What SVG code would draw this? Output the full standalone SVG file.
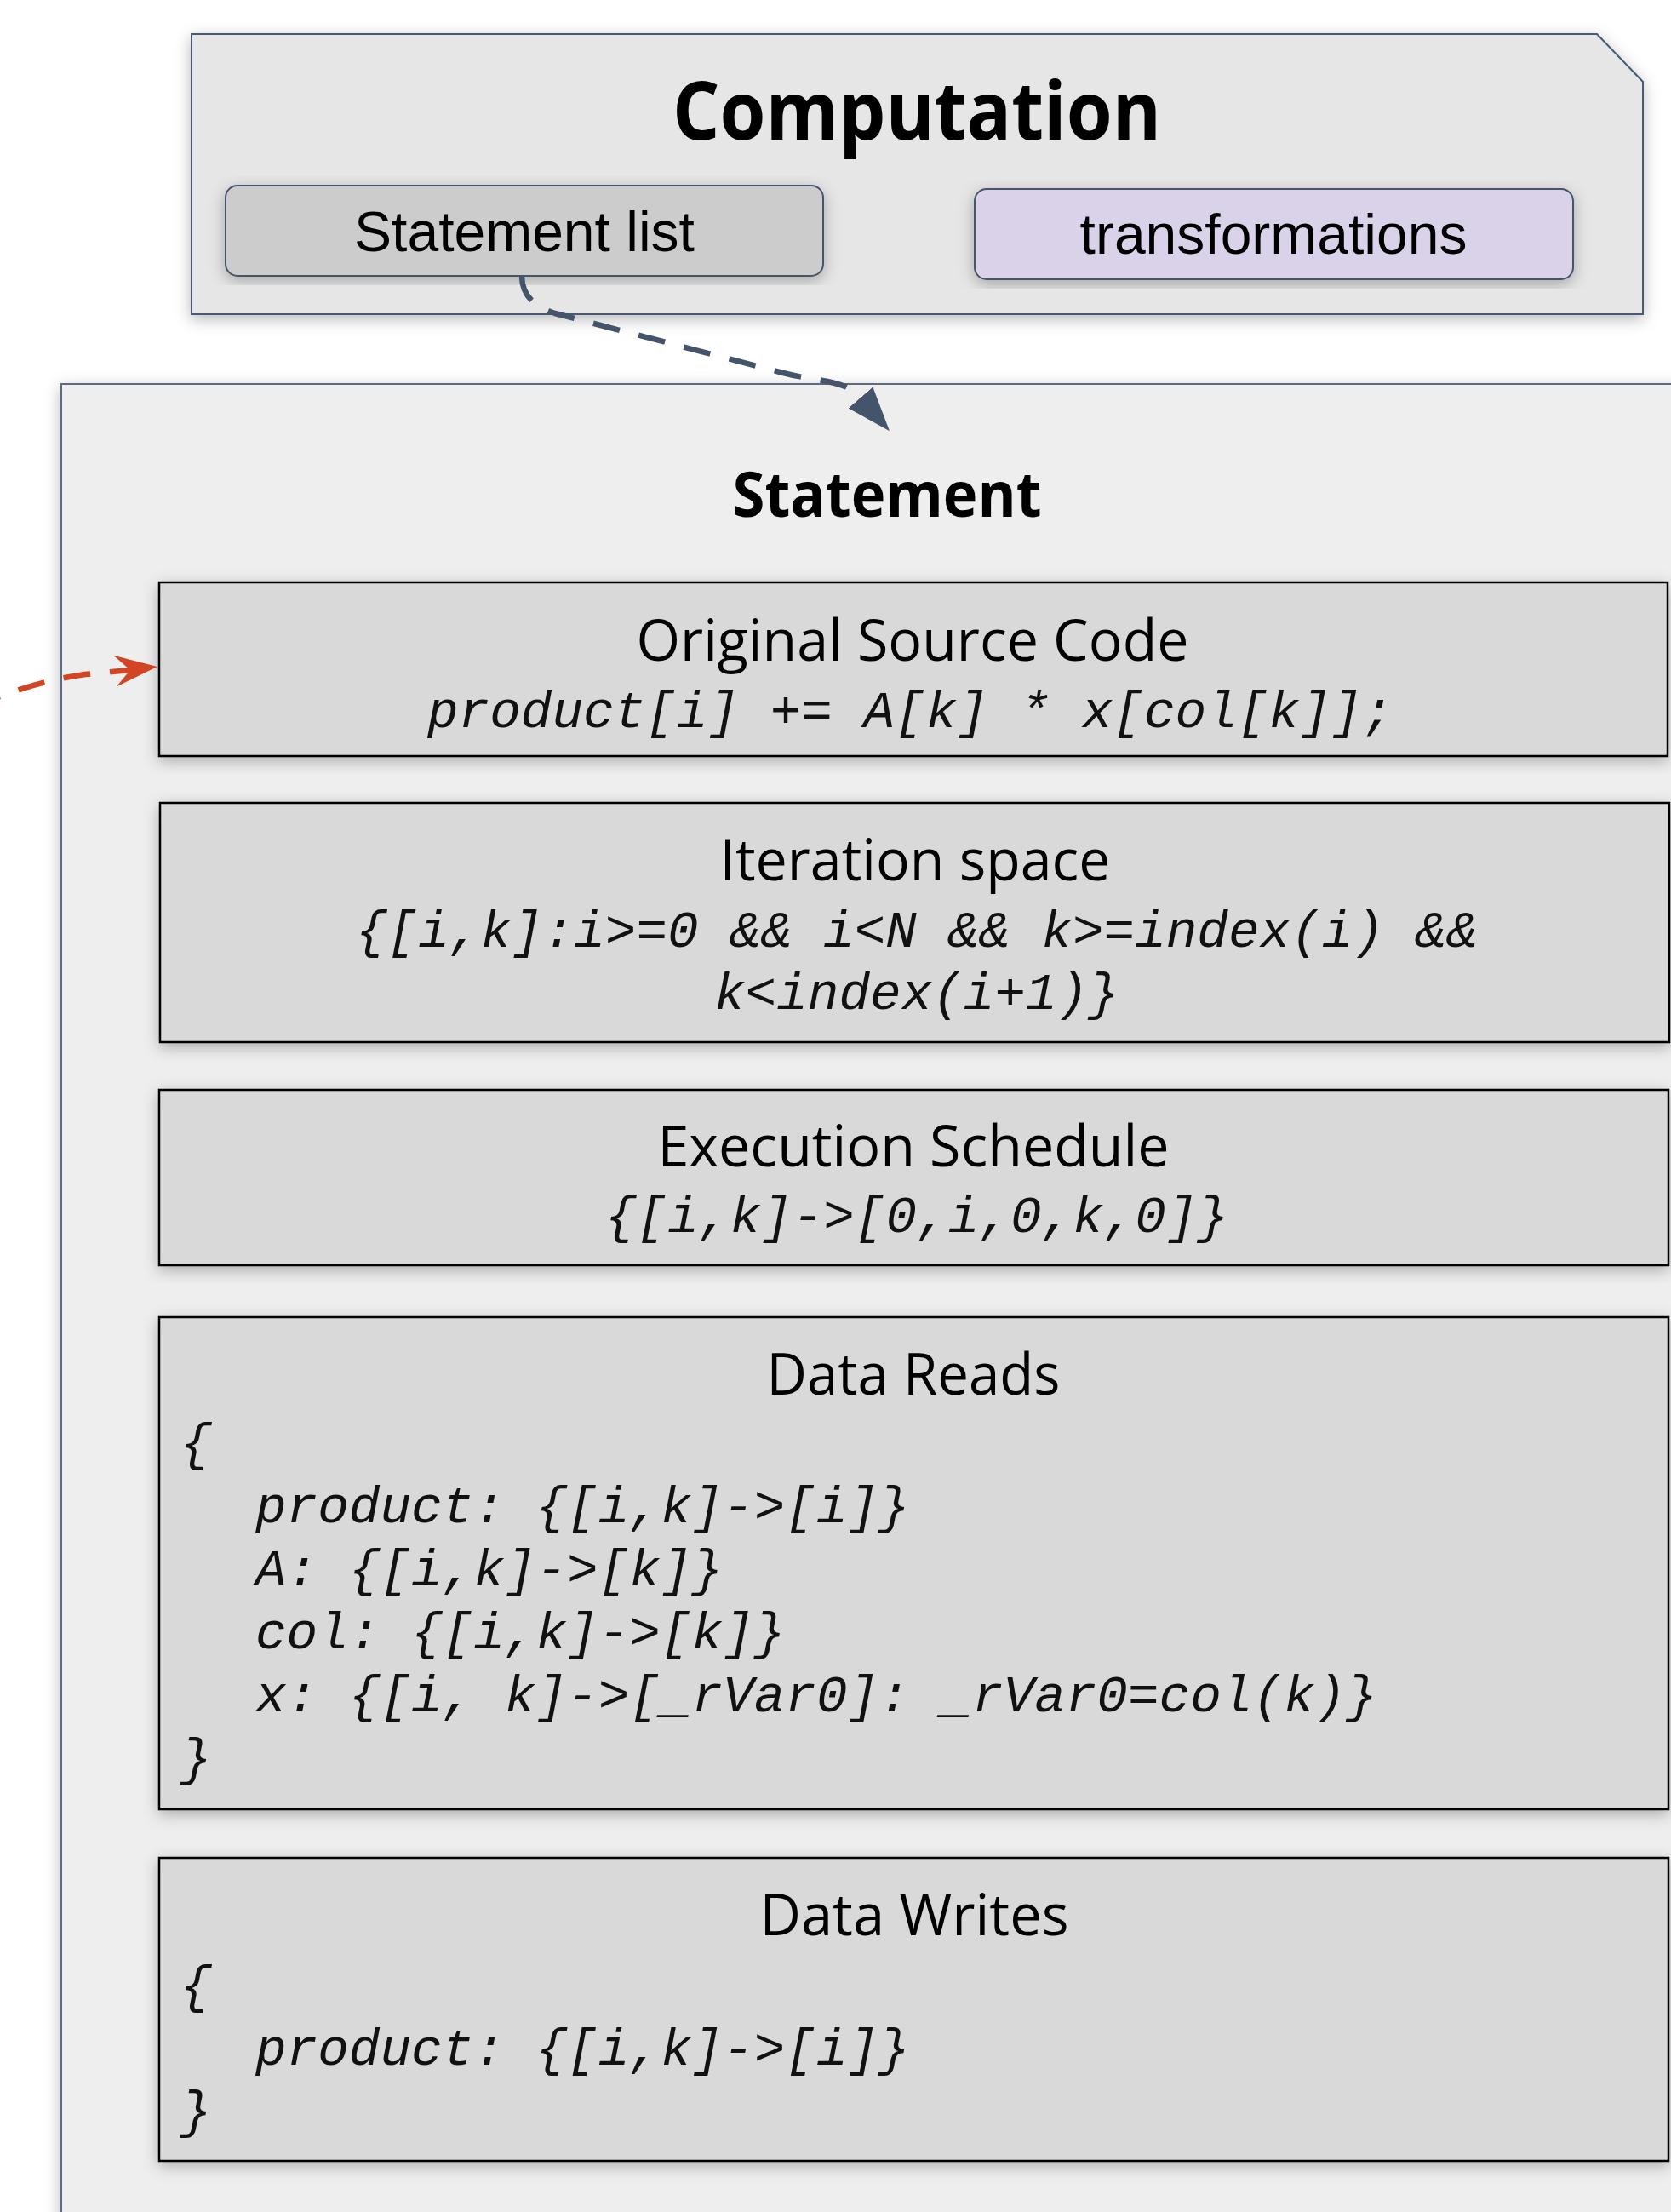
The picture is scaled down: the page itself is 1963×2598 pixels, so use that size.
<svg xmlns="http://www.w3.org/2000/svg" width="1963" height="2598" viewBox="0 0 1963 2598">
  <defs>
    <filter id="shadow" x="-10%" y="-10%" width="120%" height="120%">
      <feDropShadow dx="0" dy="5" stdDeviation="9" flood-color="#000" flood-opacity="0.28"/>
    </filter>
    <marker id="arrowBlue" markerUnits="userSpaceOnUse" viewBox="0 0 52 38" refX="0" refY="19" markerWidth="52" markerHeight="38" orient="auto">
      <path d="M0,0 L52,19 L0,38 z" fill="#44546a"/>
    </marker>
    <marker id="arrowRed" markerUnits="userSpaceOnUse" viewBox="0 0 50 38" refX="18" refY="19" markerWidth="50" markerHeight="38" orient="auto">
      <path d="M0,0 L50,18 L0,37 L18,19 z" fill="#d14424"/>
    </marker>
  </defs>
  <style>
    .title { font-family: "Open Sans", "Noto Sans", sans-serif; font-weight: 700; fill: #000; text-anchor: middle; }
    .head { font-family: "Open Sans", "Noto Sans", sans-serif; font-size: 67px; fill: #000; text-anchor: middle; }
    .pill { font-family: "Liberation Sans", Arial, sans-serif; font-size: 66px; fill: #000; text-anchor: middle; }
    .code { font-family: "Liberation Mono", "Courier New", monospace; font-style: italic; font-size: 61px; fill: #111; }
    .card { fill: #d9d9d9; stroke: #000; stroke-width: 2.5; filter: url(#shadow); }
    .conn { fill: none; stroke-width: 6.5; stroke-dasharray: 32 23; }
  </style>

  <rect width="1963" height="2598" fill="#ffffff"/>

  <!-- Computation container -->
  <g id="computation">
    <path d="M225,40 L1876,40 L1930,96 L1930,369 L225,369 Z" fill="#e6e6e6" stroke="#4a5a72" stroke-width="2" filter="url(#shadow)"/>
    <text class="title" x="1077" y="164" font-size="95" textLength="574" lengthAdjust="spacingAndGlyphs">Computation</text>
  </g>
  <g id="statement-list">
    <rect x="265" y="218" width="702" height="106" rx="14" fill="#cccccc" stroke="#44546a" stroke-width="2" filter="url(#shadow)"/>
    <text class="pill" x="616" y="295">Statement list</text>
  </g>
  <g id="transformations">
    <rect x="1145" y="222" width="703" height="106" rx="14" fill="#d9d2e9" stroke="#44546a" stroke-width="2" filter="url(#shadow)"/>
    <text class="pill" x="1496" y="298">transformations</text>
  </g>

  <!-- Statement container -->
  <g id="statement">
    <rect x="72" y="451" width="2050" height="2300" fill="#eeeeee" stroke="#5b6b82" stroke-width="2" filter="url(#shadow)"/>
    <text class="title" x="1042" y="607" font-size="74" textLength="363" lengthAdjust="spacingAndGlyphs">Statement</text>
  </g>

  <g id="original-source-code">
    <rect class="card" x="187" y="684" width="1772" height="204"/>
    <text class="head" x="1072" y="776" textLength="649" lengthAdjust="spacingAndGlyphs">Original Source Code</text>
    <text class="code" x="502" y="854">product[i] += A[k] * x[col[k]];</text>
  </g>

  <g id="iteration-space">
    <rect class="card" x="188" y="943" width="1773" height="281"/>
    <text class="head" x="1075" y="1034" textLength="459" lengthAdjust="spacingAndGlyphs">Iteration space</text>
    <text class="code" x="418" y="1112">{[i,k]:i&gt;=0 &amp;&amp; i&lt;N &amp;&amp; k&gt;=index(i) &amp;&amp;</text>
    <text class="code" x="839" y="1185">k&lt;index(i+1)}</text>
  </g>

  <g id="execution-schedule">
    <rect class="card" x="187" y="1280" width="1773" height="206"/>
    <text class="head" x="1073" y="1370" textLength="601" lengthAdjust="spacingAndGlyphs">Execution Schedule</text>
    <text class="code" x="711" y="1447">{[i,k]-&gt;[0,i,0,k,0]}</text>
  </g>

  <g id="data-reads">
    <rect class="card" x="187" y="1547" width="1773" height="578"/>
    <text class="head" x="1073" y="1638" textLength="345" lengthAdjust="spacingAndGlyphs">Data Reads</text>
    <text class="code" x="212" y="1714">{</text>
    <text class="code" x="300" y="1788">product: {[i,k]-&gt;[i]}</text>
    <text class="code" x="300" y="1862">A: {[i,k]-&gt;[k]}</text>
    <text class="code" x="300" y="1936">col: {[i,k]-&gt;[k]}</text>
    <text class="code" x="300" y="2010">x: {[i, k]-&gt;[_rVar0]: _rVar0=col(k)}</text>
    <text class="code" x="212" y="2084">}</text>
  </g>

  <g id="data-writes">
    <rect class="card" x="187" y="2182" width="1773" height="356"/>
    <text class="head" x="1074" y="2273" textLength="363" lengthAdjust="spacingAndGlyphs">Data Writes</text>
    <text class="code" x="212" y="2351">{</text>
    <text class="code" x="300" y="2425">product: {[i,k]-&gt;[i]}</text>
    <text class="code" x="212" y="2498">}</text>
  </g>

  <!-- Connectors -->
  <g id="connectors">
    <path class="conn" stroke="#44546a" d="M613,324 Q613,356 652,368 L920,438 C962,449 992,445 1011,467" marker-end="url(#arrowBlue)"/>
    <path class="conn" stroke="#d14424" stroke-width="7" d="M-30,830 Q40,800 100,792 L153,787" marker-end="url(#arrowRed)"/>
  </g>
</svg>
